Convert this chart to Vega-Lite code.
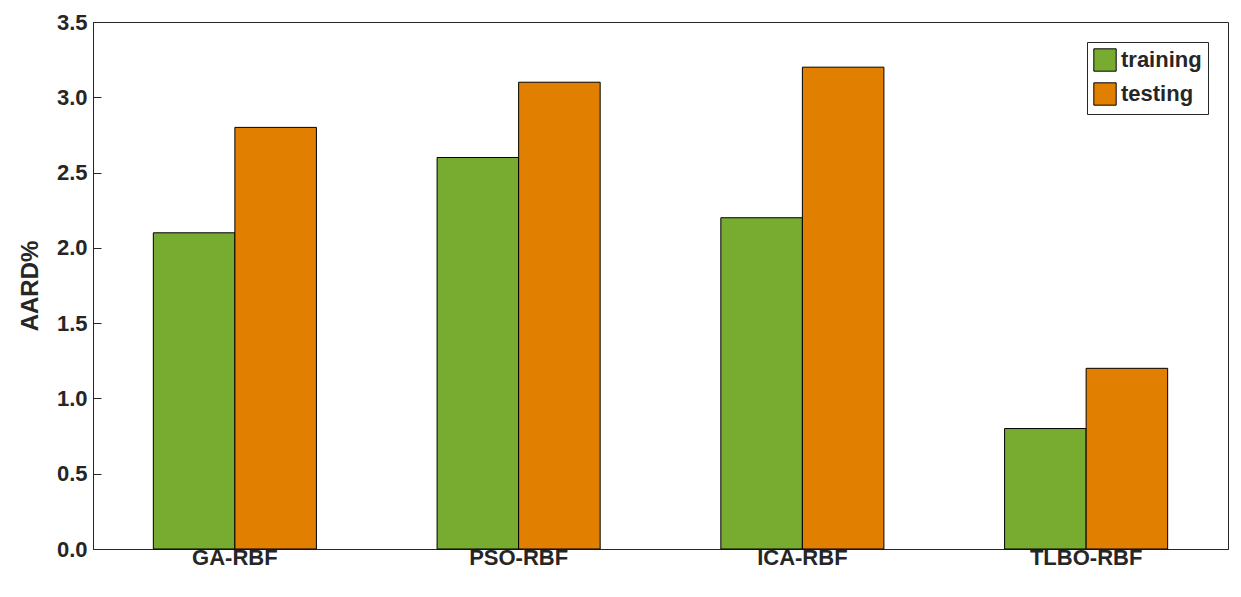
{
  "$schema": "https://vega.github.io/schema/vega-lite/v6.json",
  "width": 1135,
  "height": 527,
  "autosize": {"type": "none"},
  "padding": {"left": 93, "top": 22, "right": 13, "bottom": 48},
  "background": "white",
  "config": {
    "font": "Liberation Sans",
    "view": {"stroke": "#262626", "strokeWidth": 1},
    "axis": {"labelFontSize": 22, "labelFontWeight": "bold", "labelColor": "#262626", "domainColor": "#262626", "tickColor": "#262626", "grid": false}
  },
  "data": {
    "values": [
      {"model": "GA-RBF", "set": "training", "aard": 2.1},
      {"model": "GA-RBF", "set": "testing", "aard": 2.8},
      {"model": "PSO-RBF", "set": "training", "aard": 2.6},
      {"model": "PSO-RBF", "set": "testing", "aard": 3.1},
      {"model": "ICA-RBF", "set": "training", "aard": 2.2},
      {"model": "ICA-RBF", "set": "testing", "aard": 3.2},
      {"model": "TLBO-RBF", "set": "training", "aard": 0.8},
      {"model": "TLBO-RBF", "set": "testing", "aard": 1.2}
    ]
  },
  "mark": {"type": "bar", "stroke": "black", "strokeWidth": 1},
  "encoding": {
    "x": {
      "field": "model", "type": "nominal", "sort": null, "title": null,
      "scale": {"paddingInner": 0, "paddingOuter": 0},
      "axis": {"labelAngle": 0, "tickSize": -8, "labelPadding": 6}
    },
    "xOffset": {
      "field": "set", "type": "nominal", "sort": ["training", "testing"],
      "scale": {"paddingInner": 0, "paddingOuter": 0.74}
    },
    "y": {
      "field": "aard", "type": "quantitative", "title": "AARD%",
      "scale": {"domain": [0, 3.5], "nice": false},
      "axis": {"values": [0, 0.5, 1, 1.5, 2, 2.5, 3, 3.5], "tickSize": -8, "labelPadding": 14, "titleFontSize": 24, "titleFontWeight": "bold", "titleColor": "#262626", "titlePadding": 14}
    },
    "color": {
      "field": "set", "type": "nominal", "sort": ["training", "testing"], "title": null,
      "scale": {"domain": ["training", "testing"], "range": ["#77AC30", "#E07F00"]},
      "legend": {
        "orient": "top-right", "offset": 20, "symbolType": "square", "symbolSize": 500,
        "symbolStrokeColor": "black", "symbolStrokeWidth": 1,
        "labelFontSize": 22, "labelFontWeight": "bold", "labelColor": "#262626",
        "strokeColor": "#262626", "fillColor": "white", "padding": 6, "rowPadding": 6
      }
    }
  }
}
